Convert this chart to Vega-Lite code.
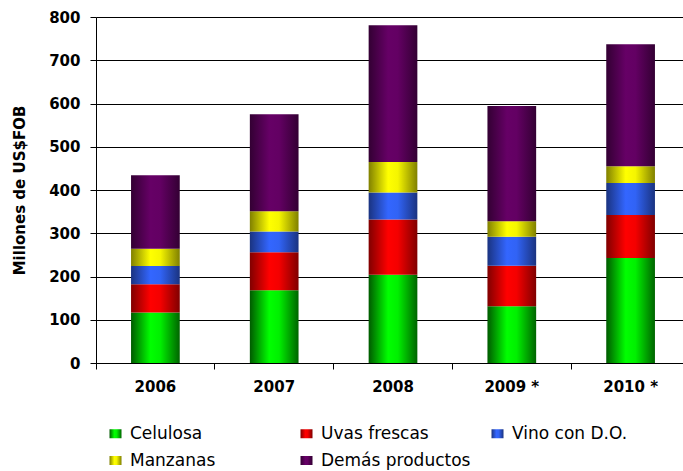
{
  "$schema": "https://vega.github.io/schema/vega-lite/v6.json",
  "autosize": {"type": "none"},
  "padding": {"left": 96, "top": 17, "right": 0, "bottom": 108},
  "width": 587,
  "height": 346,
  "background": "white",
  "config": {
    "view": {"stroke": null},
    "axis": {
      "labelFont": "DejaVu Sans",
      "labelFontWeight": "bold",
      "labelFontSize": 15,
      "labelColor": "#000",
      "titleFont": "DejaVu Sans",
      "titleFontWeight": "bold",
      "titleFontSize": 15,
      "titleColor": "#000",
      "domainColor": "#000",
      "tickColor": "#000",
      "tickSize": 6
    }
  },
  "data": {
    "values": [
      {"anio": "2006", "serie": "Celulosa", "valor": 117},
      {"anio": "2006", "serie": "Uvas frescas", "valor": 65},
      {"anio": "2006", "serie": "Vino con D.O.", "valor": 42},
      {"anio": "2006", "serie": "Manzanas", "valor": 40},
      {"anio": "2006", "serie": "Demás productos", "valor": 170},
      {"anio": "2007", "serie": "Celulosa", "valor": 168},
      {"anio": "2007", "serie": "Uvas frescas", "valor": 88},
      {"anio": "2007", "serie": "Vino con D.O.", "valor": 48},
      {"anio": "2007", "serie": "Manzanas", "valor": 47},
      {"anio": "2007", "serie": "Demás productos", "valor": 224},
      {"anio": "2008", "serie": "Celulosa", "valor": 204},
      {"anio": "2008", "serie": "Uvas frescas", "valor": 128},
      {"anio": "2008", "serie": "Vino con D.O.", "valor": 62},
      {"anio": "2008", "serie": "Manzanas", "valor": 71},
      {"anio": "2008", "serie": "Demás productos", "valor": 316},
      {"anio": "2009 *", "serie": "Celulosa", "valor": 131},
      {"anio": "2009 *", "serie": "Uvas frescas", "valor": 94},
      {"anio": "2009 *", "serie": "Vino con D.O.", "valor": 67},
      {"anio": "2009 *", "serie": "Manzanas", "valor": 36},
      {"anio": "2009 *", "serie": "Demás productos", "valor": 266},
      {"anio": "2010 *", "serie": "Celulosa", "valor": 243},
      {"anio": "2010 *", "serie": "Uvas frescas", "valor": 99},
      {"anio": "2010 *", "serie": "Vino con D.O.", "valor": 74},
      {"anio": "2010 *", "serie": "Manzanas", "valor": 39},
      {"anio": "2010 *", "serie": "Demás productos", "valor": 282}
    ]
  },
  "transform": [
    {"calculate": "indexof(['Celulosa','Uvas frescas','Vino con D.O.','Manzanas','Demás productos'], datum.serie)", "as": "k"}
  ],
  "mark": {"type": "bar"},
  "encoding": {
    "x": {
      "field": "anio",
      "type": "nominal",
      "sort": null,
      "scale": {"range": [0, 594], "paddingInner": 0.59, "paddingOuter": 0.295},
      "axis": {"title": null, "labelAngle": 0, "bandPosition": -0.7195, "labelPadding": 10, "grid": false}
    },
    "y": {
      "field": "valor",
      "type": "quantitative",
      "aggregate": "sum",
      "stack": "zero",
      "scale": {"domain": [0, 800], "nice": false},
      "axis": {
        "title": "Millones de US$FOB",
        "values": [0, 100, 200, 300, 400, 500, 600, 700, 800],
        "grid": true,
        "gridColor": "#000",
        "gridWidth": 1,
        "labelPadding": 10,
        "titlePadding": 21
      }
    },
    "order": {"field": "k", "type": "quantitative", "sort": "ascending"},
    "color": {
      "field": "serie",
      "type": "nominal",
      "scale": {
        "domain": ["Celulosa", "Uvas frescas", "Vino con D.O.", "Manzanas", "Demás productos"],
        "range": [
          {"expr": "{gradient:'linear', x1:0, y1:0, x2:1, y2:0, stops:[{offset:0,color:'#005a00'},{offset:0.4,color:'#00ff00'},{offset:0.6,color:'#00f000'},{offset:1,color:'#006400'}]}"},
          {"expr": "{gradient:'linear', x1:0, y1:0, x2:1, y2:0, stops:[{offset:0,color:'#800000'},{offset:0.4,color:'#ff0000'},{offset:0.6,color:'#f40000'},{offset:1,color:'#800000'}]}"},
          {"expr": "{gradient:'linear', x1:0, y1:0, x2:1, y2:0, stops:[{offset:0,color:'#1a3380'},{offset:0.4,color:'#3366ff'},{offset:0.6,color:'#3163f5'},{offset:1,color:'#1a3380'}]}"},
          {"expr": "{gradient:'linear', x1:0, y1:0, x2:1, y2:0, stops:[{offset:0,color:'#808000'},{offset:0.4,color:'#ffff00'},{offset:0.6,color:'#f5f500'},{offset:1,color:'#808000'}]}"},
          {"expr": "{gradient:'linear', x1:0, y1:0, x2:1, y2:0, stops:[{offset:0,color:'#330033'},{offset:0.4,color:'#660066'},{offset:0.6,color:'#630063'},{offset:1,color:'#330033'}]}"}
        ]
      },
      "legend": {
        "title": null,
        "orient": "none",
        "legendX": 11,
        "legendY": 408,
        "direction": "horizontal",
        "columns": 3,
        "gridAlign": "all",
        "columnPadding": 18,
        "rowPadding": 9,
        "padding": 0,
        "symbolType": "M-1,-0.75H1V0.75H-1Z",
        "symbolSize": 144,
        "symbolStrokeWidth": 0,
        "labelOffset": 6,
        "labelFont": "DejaVu Sans",
        "labelFontSize": 17,
        "labelColor": "#000",
        "labelLimit": 300
      }
    }
  }
}
